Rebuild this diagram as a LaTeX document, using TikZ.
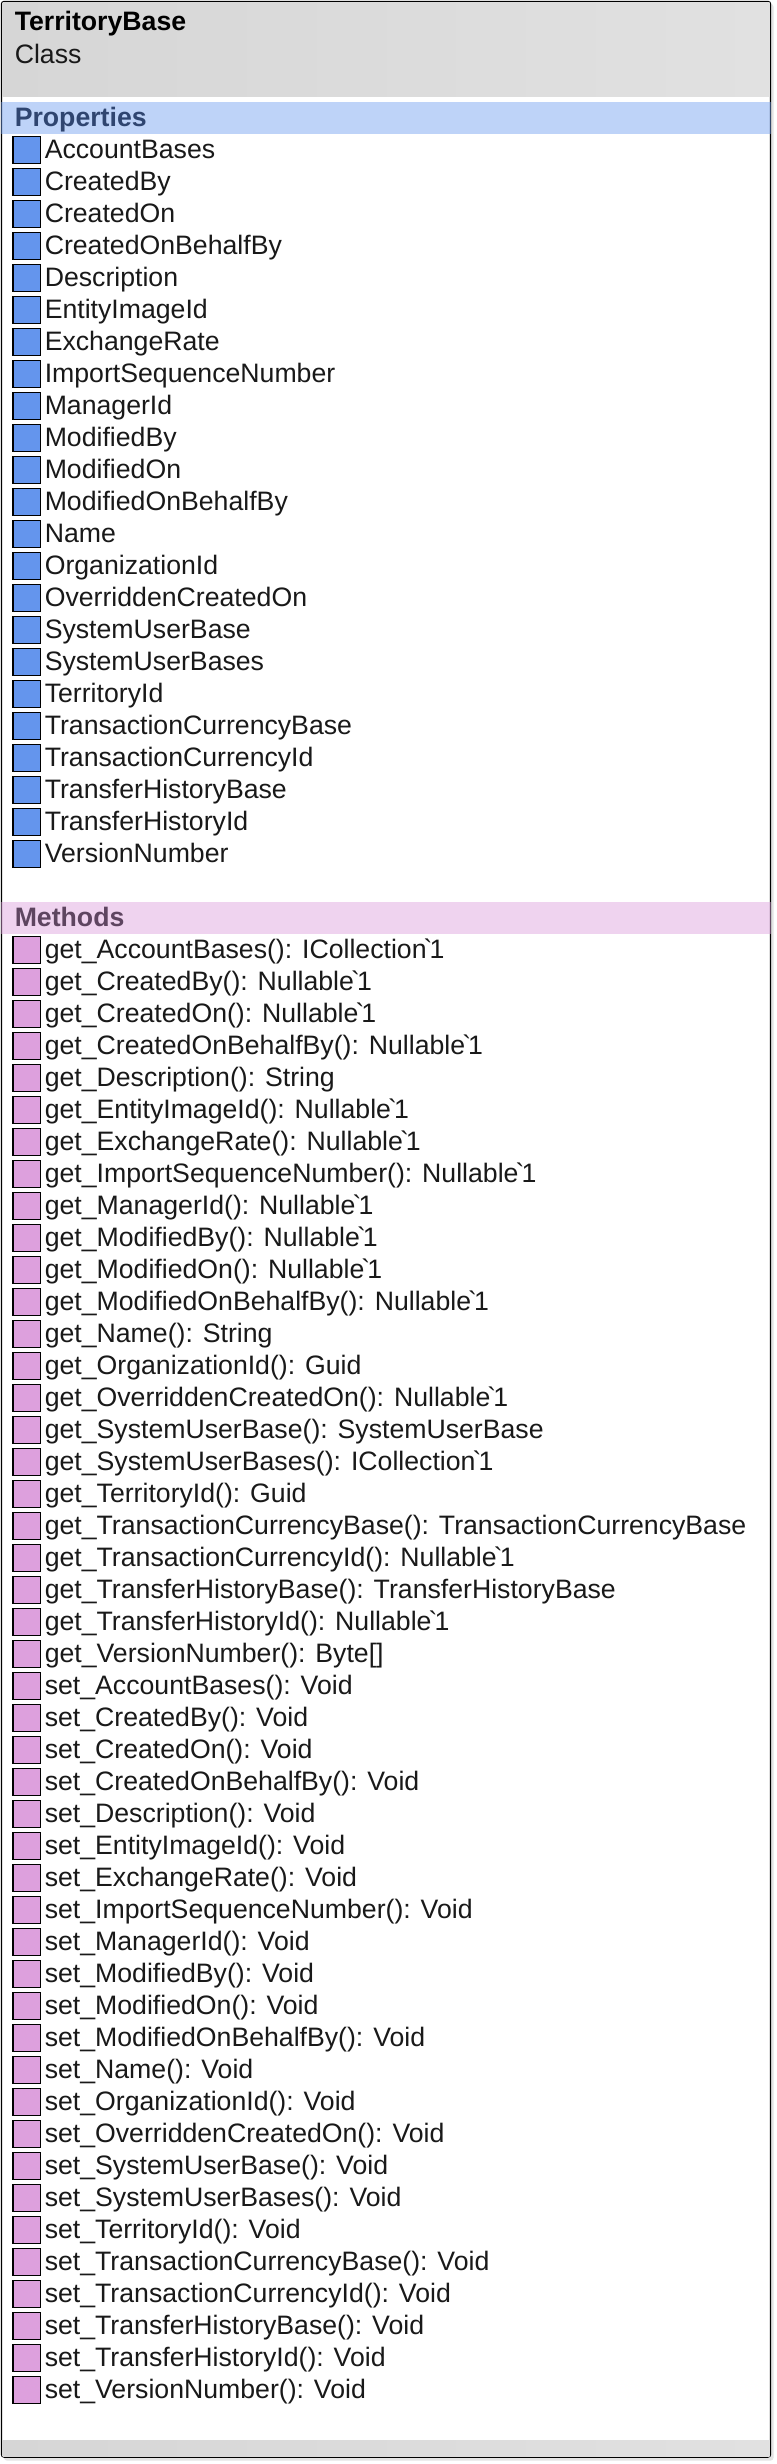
\documentclass[tikz,border=0pt]{standalone}
\usepackage{fontspec}
\newfontfamily\umlfont{Liberation Sans}
\newcommand{\tick}{\kern-.11em`\kern-.11em}
\definecolor{headleft}{HTML}{D6D6D6}
\definecolor{headright}{HTML}{E1E1E1}
\definecolor{shadowgray}{HTML}{E4E4E4}
\definecolor{propband}{HTML}{6F9EF0}
\definecolor{methband}{HTML}{DC9EDC}
\definecolor{propicon}{HTML}{6495ED}
\definecolor{methicon}{HTML}{DDA0DD}
\definecolor{proptext}{HTML}{2F4570}
\definecolor{methtext}{HTML}{5E4560}
\begin{document}
\begin{tikzpicture}
[x=.75pt,y=-.75pt,
font=\umlfont\fontsize{20}{24}\selectfont,
member/.style={anchor=base west,inner sep=0pt,text=black!90},
heading/.style={anchor=base west,inner sep=0pt,font=\umlfont\bfseries\fontsize{20}{24}\selectfont},
icon/.style={draw=black,line width=.9pt,minimum size=20.6pt,inner sep=0pt},
band/.style={fill opacity=.45}]
\useasboundingbox (0,0) rectangle (777,2464);

% frame with shadow
\fill[shadowgray,rounded corners=2pt] (4,4) rectangle (773.5,2460.5);
\draw[black,fill=white,line width=1.1pt,rounded corners=2pt] (1.5,1.5) rectangle (770.5,2457);

% title and footer
\shade[left color=headleft,right color=headright] (2.5,2.5) rectangle (769.5,96);
\shade[left color=headleft,right color=headright] (2.5,2440) rectangle (769.5,2456);
\node[heading] (title) at (14.5,30) {TerritoryBase};
\node[member] (kind) at (14.5,63) {Class};

% compartments
\fill[propband,band] (1,102) rectangle (771,134);
\node[heading,text=proptext] (props) at (14.5,126.5) {Properties};
\fill[methband,band] (1,902) rectangle (771,934);
\node[heading,text=methtext] (meths) at (14.5,926.5) {Methods};

% one row of each kind per member
\foreach \prop/\rtype [count=\i from 0] in {
AccountBases/ICollection\tick1,CreatedBy/Nullable\tick1,CreatedOn/Nullable\tick1,
CreatedOnBehalfBy/Nullable\tick1,Description/String,EntityImageId/Nullable\tick1,
ExchangeRate/Nullable\tick1,ImportSequenceNumber/Nullable\tick1,ManagerId/Nullable\tick1,
ModifiedBy/Nullable\tick1,ModifiedOn/Nullable\tick1,ModifiedOnBehalfBy/Nullable\tick1,
Name/String,OrganizationId/Guid,OverriddenCreatedOn/Nullable\tick1,
SystemUserBase/SystemUserBase,SystemUserBases/ICollection\tick1,TerritoryId/Guid,
TransactionCurrencyBase/TransactionCurrencyBase,TransactionCurrencyId/Nullable\tick1,
TransferHistoryBase/TransferHistoryBase,TransferHistoryId/Nullable\tick1,VersionNumber/Byte[]}
{
\node[icon,fill=propicon] (pi\i) at (26.7,{150+32*\i}) {};
\node[member] (p\i) at (44.5,{158.5+32*\i}) {\prop};
\node[icon,fill=methicon] (gi\i) at (26.7,{950+32*\i}) {};
\node[member] (g\i) at (44.5,{958.5+32*\i}) {get\_\prop(): \rtype};
\node[icon,fill=methicon] (si\i) at (26.7,{1686+32*\i}) {};
\node[member] (s\i) at (44.5,{1694.5+32*\i}) {set\_\prop(): Void};
}
\end{tikzpicture}
\end{document}
